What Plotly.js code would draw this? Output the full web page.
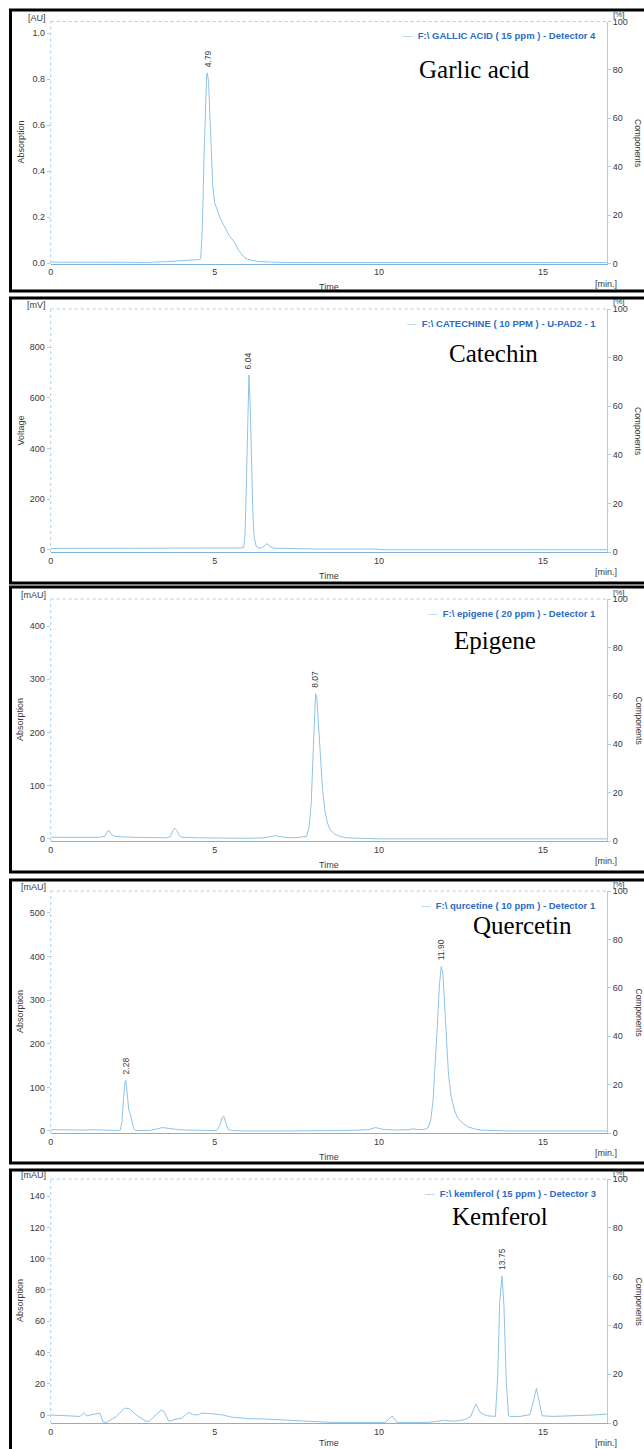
<!DOCTYPE html>
<html><head><meta charset="utf-8">
<script src="https://cdn.plot.ly/plotly-3.0.1.min.js"></script>
<style>html,body{margin:0;padding:0;background:#fff;}#chart{width:644px;height:1449px;}</style>
</head><body><div id="chart"></div>
<script>
// ---------- data ----------
const gallicTime   = [0,0.5,1.0,1.5,2.0,2.5,3.0,3.5,4.0,4.3,4.5,4.57,4.62,4.67,4.71,4.75,4.77,4.81,4.85,4.89,4.94,5.0,5.08,5.15,5.25,5.35,5.45,5.55,5.62,5.7,5.8,5.9,6.0,6.15,6.3,6.6,7.0,8,9,10,11,12,13,14,15,16,16.95];
const gallicSignal = [0.004,0.004,0.003,0.004,0.004,0.002,0.003,0.006,0.009,0.012,0.015,0.018,0.15,0.45,0.7,0.815,0.827,0.79,0.64,0.46,0.33,0.26,0.225,0.2,0.17,0.143,0.117,0.1,0.085,0.06,0.04,0.025,0.016,0.01,0.007,0.005,0.003,0.002,0.002,0.002,0.002,0.002,0.002,0.002,0.002,0.002,0.002];

const catechinTime   = [0,1,2,3,4,5,5.5,5.8,5.88,5.92,5.96,6.0,6.04,6.08,6.12,6.16,6.2,6.26,6.34,6.42,6.5,6.57,6.63,6.7,6.8,7.0,7.5,8,9,9.9,10.1,11,12,13,14,15,16,16.95];
const catechinSignal = [6,6,6,6,6,7,7,8,10,60,250,520,690,560,320,140,50,15,8,8,14,24,22,12,7,6,5,4,4,4,1,1,1,1,1,1,1,1];

const epigeneTime   = [0,0.5,1,1.5,1.65,1.72,1.78,1.85,1.95,2.1,2.5,3,3.5,3.65,3.72,3.78,3.85,3.92,4.0,4.5,5.0,5.5,6.0,6.5,6.75,6.85,7.0,7.3,7.6,7.8,7.88,7.94,7.99,8.03,8.07,8.11,8.16,8.22,8.28,8.35,8.43,8.52,8.65,8.8,9.0,9.5,10,12,14,16,16.95];
const epigeneSignal = [3,3,2.5,3,5,14,15,8,5,4,3,2.5,2,4,15,20,15,6,3,2,1.5,1,1,2,5,6,4,2,3,5,25,70,150,230,273,265,220,150,95,55,30,17,9,5,2,1,0,0,0,0,0];

const quercetinTime   = [0,0.5,1,1.3,1.6,2.0,2.12,2.17,2.22,2.26,2.29,2.33,2.38,2.43,2.48,2.53,2.6,3.0,3.2,3.4,3.6,3.9,4.2,4.6,5.05,5.15,5.22,5.27,5.33,5.4,5.5,6,7,8,9,9.7,9.9,10.1,10.5,10.9,11.05,11.2,11.4,11.5,11.58,11.65,11.72,11.78,11.84,11.9,11.95,12.0,12.06,12.12,12.2,12.3,12.4,12.55,12.7,12.9,13.1,13.4,14,15,16,16.95];
const quercetinSignal = [3,2,2,3,2,1,2,20,75,112,116,90,48,38,20,5,1,1,4,8,6,3,2,1,1,12,30,34,20,4,1,0,0,0,1,3,8,4,2,3,5,3,4,8,25,70,150,240,330,377,360,290,200,130,80,48,30,18,10,5,2,1,0,0,0,0];

const kemferolTime   = [0,0.5,0.9,1.0,1.1,1.5,1.6,1.7,2.0,2.25,2.4,2.6,2.9,3.0,3.35,3.45,3.6,3.75,4.0,4.2,4.35,4.5,4.6,4.9,5.2,5.5,6.0,6.5,7.0,7.5,8.0,8.5,9.0,10.2,10.4,10.55,11.5,12.0,12.3,12.6,12.8,12.95,13.1,13.3,13.55,13.62,13.68,13.75,13.81,13.88,13.95,14.0,14.3,14.6,14.72,14.8,14.88,14.97,15.3,16.0,16.5,16.95];
const kemferolSignal = [0,-0.5,-0.9,1.5,-0.5,1.3,-4.7,-4.7,-0.9,4.5,3.9,0.2,-4,-4,3,2.3,-4,-3,-1.9,1.7,0.2,0.2,1.3,0.8,0.2,-1.3,-2.3,-2.5,-3,-3.6,-4,-4.7,-4.7,-4.7,-0.5,-4.7,-4.7,-3.4,-4,-3,-0.9,7,1.3,-0.5,-0.9,25,72,89,70,22,-0.5,-0.9,-0.9,0.2,10,17,9,-0.5,-0.9,-0.5,0,0.6];

const seriesTimes   = [gallicTime, catechinTime, epigeneTime, quercetinTime, kemferolTime];
const seriesSignals = [gallicSignal, catechinSignal, epigeneSignal, quercetinSignal, kemferolSignal];

const compoundNames = ['Garlic acid','Catechin','Epigene','Quercetin','Kemferol'];
const legendNames = ['F:\\ GALLIC ACID ( 15 ppm ) - Detector 4','F:\\ CATECHINE ( 10 PPM ) - U-PAD2 - 1','F:\\ epigene ( 20 ppm ) - Detector 1','F:\\ qurcetine ( 10 ppm ) - Detector 1','F:\\ kemferol ( 15 ppm ) - Detector 3'];
const unitLabels = ['[AU]','[mV]','[mAU]','[mAU]','[mAU]'];
const yTitles = ['Absorption','Voltage','Absorption','Absorption','Absorption'];
const yTickVals = [[0,0.2,0.4,0.6,0.8,1.0],[0,200,400,600,800],[0,100,200,300,400],[0,100,200,300,400,500],[0,20,40,60,80,100,120,140]];
const yTickText = [['0.0','0.2','0.4','0.6','0.8','1.0'],['0','200','400','600','800'],['0','100','200','300','400'],['0','100','200','300','400','500'],['0','20','40','60','80','100','120','140']];
const xTickVals = [0,5,10,15];
const xTickText = ['0','5','10','15'];
const rightTickVals = [0,20,40,60,80,100];
const rightTickText = ['0','20','40','60','80','100'];
const peakTimes  = [[4.79],[6.04],[8.07],[2.28,11.90],[13.75]];
const peakLabels = [['4.79'],['6.04'],['8.07'],['2.28','11.90'],['13.75']];

// ---------- geometry (pixels) ----------
const W = 644, H = 1449;
const PL = 50.7, PR = 607;
const panels = [
  {bt:10,   bb:291,  pt:21.5, pb:263.5, yr:[-0.002,1.05], nx:474, ny:69,   tt:24},
  {bt:298,  bb:583,  pt:309,  pb:552,   yr:[-8,950],      nx:494, ny:353,  tt:24},
  {bt:587,  bb:872,  pt:599,  pb:841,   yr:[-4,451],      nx:495, ny:640,  tt:24},
  {bt:880,  bb:1163, pt:891,  pb:1133,  yr:[-4.6,550],    nx:522, ny:925,  tt:24},
  {bt:1170, bb:1458, pt:1179, pb:1423,  yr:[-5.1,151],    nx:500, ny:1216, tt:20}
];
const fx = x => x / W;
const fy = y => 1 - y / H;

const SMALL = 'Liberation Sans, Arial, sans-serif';
const txtCol = '#3a3a3a';
const axisBlue = '#a6cfee';
const traceBlue = '#8ec3e7';

const data = [];
const layout = {
  width: W, height: H,
  margin: {l:0, r:0, t:0, b:0},
  paper_bgcolor: '#fff', plot_bgcolor: '#fff',
  showlegend: false,
  annotations: [], shapes: []
};

panels.forEach((p, i) => {
  const n = i + 1;
  const xk = n === 1 ? 'x' : 'x' + n;
  const yk = n === 1 ? 'y' : 'y' + n;
  const rk = 'y' + (n + 5);
  const dom = [fy(p.pb), fy(p.pt)];

  layout[n === 1 ? 'xaxis' : 'xaxis' + n] = {
    domain: [fx(PL), fx(PR)], anchor: yk, range: [0, 16.95],
    showline: true, linecolor: '#7fb1de', linewidth: 1,
    ticks: '', tickvals: xTickVals, ticktext: xTickText,
    tickfont: {family: SMALL, size: 9, color: txtCol},
    showgrid: false, zeroline: false, fixedrange: true
  };
  layout[n === 1 ? 'yaxis' : 'yaxis' + n] = {
    domain: dom, anchor: xk, range: p.yr,
    showline: false, ticks: 'outside', ticklen: 3, tickcolor: axisBlue, tickwidth: 1,
    tickvals: yTickVals[i], ticktext: yTickText[i],
    tickfont: {family: SMALL, size: 9, color: txtCol},
    showgrid: false, zeroline: false, fixedrange: true
  };
  layout['yaxis' + (n + 5)] = {
    overlaying: yk, side: 'right', anchor: xk, range: [0, 100],
    showline: true, linecolor: axisBlue, linewidth: 1,
    ticks: 'outside', ticklen: 3, tickcolor: axisBlue,
    tickvals: rightTickVals, ticktext: rightTickText,
    tickfont: {family: SMALL, size: 9, color: txtCol},
    showgrid: false, zeroline: false, fixedrange: true
  };

  data.push({
    x: seriesTimes[i], y: seriesSignals[i], xaxis: xk, yaxis: yk,
    type: 'scatter', mode: 'lines', line: {color: traceBlue, width: 1},
    hoverinfo: 'skip'
  });
  // invisible trace to activate right axis
  data.push({x: [0], y: [0], xaxis: xk, yaxis: rk, mode: 'markers',
    marker: {opacity: 0}, hoverinfo: 'skip'});

  // frame lines (dotted left & top)
  layout.shapes.push({type:'line', xref:'paper', yref:'paper', x0:fx(PL), x1:fx(PL), y0:fy(p.pb), y1:fy(p.pt), line:{color:axisBlue, width:1, dash:'dot'}});
  layout.shapes.push({type:'line', xref:'paper', yref:'paper', x0:fx(PL), x1:fx(PR), y0:fy(p.pt), y1:fy(p.pt), line:{color:axisBlue, width:1, dash:'dot'}});
  // panel border
  layout.shapes.push({type:'rect', xref:'paper', yref:'paper', x0:fx(10.5), x1:fx(660), y0:fy(p.bb), y1:fy(p.bt), line:{color:'#000', width:3}, fillcolor:'rgba(0,0,0,0)'});

  const A = layout.annotations;
  // unit label
  A.push({xref:'paper', yref:'paper', x:fx(48), y:fy(p.pt - 4), xanchor:'right', yanchor:'middle', text:unitLabels[i], showarrow:false, font:{family:SMALL, size:9, color:txtCol}});
  // y title
  A.push({xref:'paper', yref:'paper', x:fx(20), y:fy((p.pt + p.pb) / 2), xanchor:'center', yanchor:'middle', text:yTitles[i], textangle:-90, showarrow:false, font:{family:SMALL, size:9, color:txtCol}});
  // [%]
  A.push({xref:'paper', yref:'paper', x:fx(611), y:fy(p.pt - 7), xanchor:'left', yanchor:'middle', text:'[%]', showarrow:false, font:{family:SMALL, size:8, color:txtCol}});
  // Components
  A.push({xref:'paper', yref:'paper', x:fx(638.5), y:fy((p.pt + p.pb) / 2), xanchor:'center', yanchor:'middle', text:'Components', textangle:90, showarrow:false, font:{family:SMALL, size:8.5, color:txtCol}});
  // Time
  A.push({xref:'paper', yref:'paper', x:fx((PL + PR) / 2), y:fy(p.pb + p.tt), xanchor:'center', yanchor:'middle', text:'Time', showarrow:false, font:{family:SMALL, size:9, color:txtCol}});
  // [min.]
  A.push({xref:'paper', yref:'paper', x:fx(606), y:fy(p.pb + 20), xanchor:'center', yanchor:'middle', text:'[min.]', showarrow:false, font:{family:SMALL, size:9, color:txtCol}});
  // legend entry
  A.push({xref:'paper', yref:'paper', x:fx(598), y:fy(p.pt + 14), xanchor:'right', yanchor:'middle',
    text:'<span style="color:' + traceBlue + '">—</span>  <b>' + legendNames[i] + '</b>', showarrow:false,
    font:{family:SMALL, size:9.5, color:'#2a6cc8'}});
  // compound name
  A.push({xref:'paper', yref:'paper', x:fx(p.nx), y:fy(p.ny), xanchor:'center', yanchor:'middle', text:compoundNames[i], showarrow:false,
    font:{family:'Liberation Serif, Times New Roman, serif', size:25, color:'#000'}});
  // peak labels
  peakTimes[i].forEach((t, k) => {
    let best = -Infinity;
    seriesTimes[i].forEach((tt, j) => { if (Math.abs(tt - t) <= 0.1 && seriesSignals[i][j] > best) best = seriesSignals[i][j]; });
    A.push({xref:xk, yref:yk, x:t, y:best, xanchor:'center', yanchor:'bottom', yshift:4, textangle:-90,
      text:peakLabels[i][k], showarrow:false, font:{family:SMALL, size:8.5, color:txtCol}});
  });
});

Plotly.newPlot('chart', data, layout, {staticPlot: true, displayModeBar: false});
</script>
</body></html>
